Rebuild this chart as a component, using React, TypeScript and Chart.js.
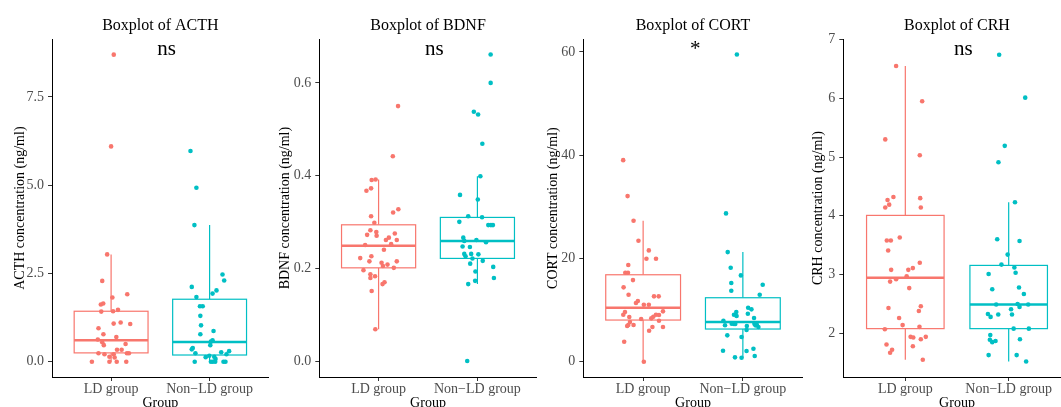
import React, { useEffect, useRef } from "react";
import { Chart, registerables } from "chart.js";

Chart.register(...registerables);

// ---------- categories / labels ----------
const groups = ["LD group", "Non\u2212LD group"];
const panelTitles = ["Boxplot of ACTH", "Boxplot of BDNF", "Boxplot of CORT", "Boxplot of CRH"];
const yAxisTitles = [
  "ACTH concentration (ng/ml)",
  "BDNF concentration (ng/ml)",
  "CORT concentration (ng/ml)",
  "CRH concentration (ng/ml)",
];
const xAxisTitle = "Group";
const sigLabels = ["ns", "ns", "*", "ns"];
const sigLabelX = [1.5, 1.5, 1.5, 1.5];
const sigLabelY = [8.68, 0.66, 59.36, 6.73];

// ---------- y axis ranges & ticks ----------
const yMins = [-0.433, -0.0329, -2.96, 1.257];
const yMaxs = [9.137, 0.694, 62.46, 7.005];
const acthTicks = [0, 2.5, 5, 7.5];
const bdnfTicks = [0, 0.2, 0.4, 0.6];
const cortTicks = [0, 20, 40, 60];
const crhTicks = [2, 3, 4, 5, 6, 7];
const tickDecimals = [1, 1, 0, 0];

// ---------- box statistics: [lower whisker, Q1, median, Q3, upper whisker] ----------
const acthBoxLD = [0, 0.25, 0.61, 1.43, 3.04];
const acthBoxNon = [0, 0.19, 0.56, 1.77, 3.87];
const bdncBoxLD = [0.07, 0.202, 0.2495, 0.2946, 0.392];
const bdnfBoxNon = [0.167, 0.2223, 0.2596, 0.3105, 0.399];
const cortBoxLD = [0, 8.07, 10.45, 16.84, 27.29];
const cortBoxNon = [0.77, 6.33, 7.68, 12.39, 21.23];
const crhBoxLD = [1.55, 2.08, 2.946, 4.007, 6.55];
const crhBoxNon = [1.52, 2.08, 2.49, 3.156, 4.23];

// ---------- jittered observations ----------
const acthLD = [8.7, 6.1, 3.04, 2.29, 1.82, 1.91, 1.62, 1.65, 1.42, 1.43, 1.47, 1.08, 1.11, 1.07, 0.95, 0.78, 0.7, 0.63, 0.55, 0.47, 0.5, 0.34, 0.34, 0.24, 0.21, 0.14, 0.21, 0.12, 0.24, 0.24, 0, 0, 0, 0];
const acthLDJitter = [0.027, 0, -0.04, -0.09, 0.013, 0.164, -0.104, -0.08, -0.1, 0.02, 0.07, 0.026, 0.097, 0.194, -0.128, -0.078, 0.053, -0.135, -0.09, -0.074, 0.147, 0.06, 0.107, -0.128, -0.067, -0.017, 0.026, 0.036, 0.161, 0.181, -0.195, -0.017, 0.057, 0.154];
const acthNon = [5.97, 4.93, 3.87, 2.47, 2.3, 2.12, 2.02, 1.93, 1.83, 1.57, 1.57, 1.3, 1.03, 0.87, 0.78, 0.61, 0.57, 0.47, 0.39, 0.35, 0.24, 0.3, 0.27, 0.21, 0.17, 0.13, 0.14, 0.08, 0, 0, 0, 0, 0, 0];
const acthNonJitter = [-0.194, -0.134, -0.154, 0.131, 0.148, -0.181, 0.07, 0.03, -0.134, -0.098, -0.07, -0.094, -0.087, 0.04, -0.094, 0.03, 0.013, 0.007, -0.171, -0.181, -0.144, 0.198, 0.118, 0.171, -0.003, -0.04, 0.047, 0.06, -0.151, 0.013, 0.033, 0.057, 0.141, 0.161];

const bdnfLD = [0.55, 0.442, 0.391, 0.392, 0.368, 0.373, 0.328, 0.321, 0.313, 0.299, 0.283, 0.279, 0.273, 0.271, 0.276, 0.267, 0.262, 0.262, 0.251, 0.253, 0.241, 0.223, 0.227, 0.216, 0.213, 0.206, 0.209, 0.216, 0.202, 0.197, 0.188, 0.18, 0.184, 0.171, 0.167, 0.152, 0.07];
const bdnfLDJitter = [0.197, 0.144, -0.07, -0.03, -0.123, -0.076, 0.2, 0.147, -0.076, -0.043, -0.083, -0.023, -0.116, -0.02, 0.164, 0.104, 0.074, 0.184, -0.136, 0.127, 0.054, -0.186, -0.073, -0.093, 0.03, 0.044, 0.09, 0.184, 0.154, -0.153, -0.083, -0.083, -0.036, 0.06, 0.04, -0.07, -0.033];
const bdnfNon = [0.661, 0.6, 0.538, 0.532, 0.469, 0.0015, 0.399, 0.359, 0.349, 0.313, 0.311, 0.301, 0.294, 0.294, 0.294, 0.267, 0.26, 0.262, 0.257, 0.248, 0.247, 0.232, 0.227, 0.232, 0.231, 0.222, 0.217, 0.211, 0.204, 0.194, 0.18, 0.174, 0.167];
const bdnfNonJitter = [0.134, 0.134, -0.036, 0.007, 0.05, -0.103, 0.03, -0.176, 0.004, -0.093, 0.047, -0.183, 0.11, 0.137, 0.157, -0.143, -0.133, -0.01, 0.087, -0.15, -0.076, -0.133, -0.12, -0.063, 0.01, -0.05, 0.054, -0.073, 0.16, -0.02, 0.167, -0.023, -0.093];

const cortLD = [39.04, 32.07, 27.29, 23.42, 21.56, 19.94, 19.94, 18.72, 17.23, 17.23, 15.81, 14.4, 12.97, 12.66, 12.66, 11.75, 11.36, 11.03, 11.03, 9.75, 9.62, 9.1, 9.1, 9.04, 8.71, 8.65, 8.4, 8.26, 7.94, 7.68, 7.1, 6.91, 7.1, 6.72, 6.72, 6.0, 3.87, 0];
const cortLDJitter = [-0.2, -0.156, -0.096, -0.047, 0.057, 0.033, 0.129, -0.149, -0.179, -0.152, -0.102, -0.196, -0.146, 0.109, 0.156, -0.053, -0.072, 0.007, 0.057, 0.199, -0.182, -0.199, 0.129, 0.159, 0.102, -0.139, 0.082, -0.02, 0.159, -0.132, -0.149, -0.16, -0.096, 0.093, 0.199, 0.06, -0.19, 0.007];
const cortNon = [59.5, 28.72, 21.23, 18.2, 16.72, 15.23, 14.9, 13.74, 12.97, 10.45, 10.14, 9.62, 9.1, 8.85, 9.29, 8.46, 7.94, 7.05, 7.34, 7.29, 7.29, 6.91, 7.36, 7.23, 6.72, 7.04, 6.14, 5.11, 4.78, 2.13, 2.52, 2.07, 0.85, 0.77, 1.1];
const cortNonJitter = [-0.06, -0.169, -0.152, -0.122, -0.02, -0.116, 0.199, -0.116, 0.169, 0.053, 0.086, -0.066, -0.089, -0.063, 0.05, 0.112, -0.195, -0.179, -0.112, -0.089, -0.076, 0.04, 0.116, 0.139, 0.156, 0.126, 0.037, -0.156, -0.013, -0.199, 0.106, 0.037, -0.079, -0.013, 0.119];

const crhLD = [6.55, 5.95, 5.3, 5.03, 4.32, 4.27, 4.19, 4.14, 4.3, 4.14, 3.63, 3.58, 3.58, 3.41, 3.2, 3.08, 3.08, 3.11, 2.97, 2.92, 2.88, 2.77, 2.43, 2.46, 2.38, 2.26, 2.14, 2.07, 2.11, 1.94, 1.93, 1.94, 1.9, 1.81, 1.78, 1.72, 1.67, 1.55];
const crhLDJitter = [-0.089, 0.163, -0.194, 0.14, -0.115, -0.172, -0.156, -0.194, 0.144, 0.15, -0.054, -0.179, -0.14, -0.166, 0.14, -0.137, 0.029, 0.073, 0.013, -0.089, -0.147, 0.038, -0.163, 0.15, 0.131, -0.06, -0.026, -0.198, 0.137, 0.051, 0.077, 0.198, 0.15, -0.182, 0.073, -0.128, -0.147, 0.169];
const crhNon = [6.74, 6.01, 5.19, 4.91, 4.23, 3.6, 3.57, 3.34, 3.17, 3.12, 3.03, 3.01, 2.75, 2.78, 2.67, 2.49, 2.5, 2.45, 2.49, 2.41, 2.33, 2.28, 2.32, 2.32, 2.08, 2.08, 1.97, 1.9, 1.89, 1.85, 1.87, 1.63, 1.63, 1.52];
const crhNonJitter = [-0.092, 0.16, -0.038, -0.099, 0.061, -0.111, 0.105, -0.01, -0.07, 0.055, 0.067, -0.194, -0.159, 0.1, 0.147, -0.121, 0.086, 0.105, 0.189, 0.023, -0.201, -0.175, -0.101, 0.032, 0.048, 0.195, -0.178, 0.109, -0.182, -0.159, -0.127, -0.194, 0.077, 0.169];

// ---------- assembled tables ----------
const panelData = [
  { ticks: acthTicks, boxes: [acthBoxLD, acthBoxNon], values: [acthLD, acthNon], jitter: [acthLDJitter, acthNonJitter] },
  { ticks: bdnfTicks, boxes: [bdncBoxLD, bdnfBoxNon], values: [bdnfLD, bdnfNon], jitter: [bdnfLDJitter, bdnfNonJitter] },
  { ticks: cortTicks, boxes: [cortBoxLD, cortBoxNon], values: [cortLD, cortNon], jitter: [cortLDJitter, cortNonJitter] },
  { ticks: crhTicks, boxes: [crhBoxLD, crhBoxNon], values: [crhLD, crhNon], jitter: [crhLDJitter, crhNonJitter] },
];

// ---------- layout & style (not data) ----------
const FONT = "'Liberation Serif', 'Times New Roman', Times, serif";
const COLORS = ["#F8766D", "#00BFC4"];
const CANVAS_H = 420;
const PLOT_BOTTOM = 377;
const panelLayout = [
  { left: 0, yWidth: 52, plotWidth: 218.5 },
  { left: 265, yWidth: 54.3, plotWidth: 220 },
  { left: 533, yWidth: 50.3, plotWidth: 221.5 },
  { left: 798, yWidth: 45.3, plotWidth: 230 },
];
const BOX_WIDTH = 0.75;

const boxPlugin = {
  id: "ggBoxes",
  beforeDatasetsDraw(chart: any, _args: any, opts: any) {
    const { ctx, scales } = chart;
    const xs = scales.x;
    const ys = scales.y;
    (opts.boxes || []).forEach((b: number[], i: number) => {
      const color = COLORS[i];
      const cx = xs.getPixelForValue(i + 1);
      const x0 = xs.getPixelForValue(i + 1 - BOX_WIDTH / 2);
      const x1 = xs.getPixelForValue(i + 1 + BOX_WIDTH / 2);
      const [lo, q1, med, q3, hi] = b.map((v: number) => ys.getPixelForValue(v));
      ctx.save();
      ctx.strokeStyle = color;
      ctx.lineWidth = 1.2;
      ctx.beginPath();
      ctx.moveTo(cx, q3);
      ctx.lineTo(cx, hi);
      ctx.moveTo(cx, q1);
      ctx.lineTo(cx, lo);
      ctx.stroke();
      ctx.fillStyle = "#ffffff";
      ctx.fillRect(x0, q3, x1 - x0, q1 - q3);
      ctx.strokeRect(x0, q3, x1 - x0, q1 - q3);
      ctx.lineWidth = 2.4;
      ctx.beginPath();
      ctx.moveTo(x0, med);
      ctx.lineTo(x1, med);
      ctx.stroke();
      ctx.restore();
    });
  },
};

const sigPlugin = {
  id: "sigLabel",
  afterDatasetsDraw(chart: any, _args: any, opts: any) {
    const { ctx, scales } = chart;
    ctx.save();
    ctx.fillStyle = "#000000";
    ctx.font = `21px ${FONT}`;
    ctx.textAlign = "left";
    ctx.textBaseline = "alphabetic";
    ctx.fillText(opts.text, scales.x.getPixelForValue(opts.x) - 3, scales.y.getPixelForValue(opts.y));
    ctx.restore();
  },
};

function Panel({ index }: { index: number }) {
  const ref = useRef<HTMLCanvasElement | null>(null);
  const lay = panelLayout[index];
  const width = lay.yWidth + lay.plotWidth;

  useEffect(() => {
    const canvas = ref.current;
    if (!canvas) return;
    const pd = panelData[index];
    const datasets = [0, 1].map((g) => ({
      data: pd.values[g].map((v, k) => ({ x: g + 1 + pd.jitter[g][k], y: v })),
      backgroundColor: COLORS[g],
      borderWidth: 0,
      pointRadius: 2.3,
      pointHoverRadius: 2.3,
    }));
    const chart = new Chart(canvas, {
      type: "scatter",
      data: { datasets },
      plugins: [boxPlugin, sigPlugin],
      options: {
        animation: false,
        responsive: false,
        maintainAspectRatio: false,
        events: [],
        layout: { padding: 0 },
        font: { family: FONT },
        plugins: {
          legend: { display: false },
          tooltip: { enabled: false },
          title: {
            display: true,
            text: panelTitles[index],
            fullSize: false,
            color: "#000000",
            font: { family: FONT, size: 16, weight: "normal" },
            padding: { top: 16, bottom: 4 },
          },
          ggBoxes: { boxes: pd.boxes },
          sigLabel: { text: sigLabels[index], x: sigLabelX[index], y: sigLabelY[index] },
        },
        scales: {
          x: {
            type: "linear",
            min: 0.4,
            max: 2.6,
            afterBuildTicks: (s: any) => {
              s.ticks = groups.map((_g, i) => ({ value: i + 1 }));
            },
            afterFit: (s: any) => {
              s.height = CANVAS_H - PLOT_BOTTOM;
            },
            ticks: {
              callback: (v: any) => groups[Math.round(Number(v)) - 1] ?? "",
              color: "#4D4D4D",
              font: { family: FONT, size: 14 },
              padding: 0,
              maxRotation: 0,
              autoSkip: false,
            },
            grid: { display: true, drawOnChartArea: false, drawTicks: true, tickLength: 4, color: "#333333" },
            border: { display: true, color: "#000000", width: 1 },
            title: {
              display: true,
              text: xAxisTitle,
              color: "#000000",
              font: { family: FONT, size: 14 },
              padding: { top: 0, bottom: 8 },
            },
          },
          y: {
            type: "linear",
            min: yMins[index],
            max: yMaxs[index],
            afterBuildTicks: (s: any) => {
              s.ticks = pd.ticks.map((v) => ({ value: v }));
            },
            afterFit: (s: any) => {
              s.width = lay.yWidth;
            },
            ticks: {
              callback: (v: any) => Number(v).toFixed(tickDecimals[index]),
              color: "#4D4D4D",
              font: { family: FONT, size: 14 },
              padding: 4,
            },
            grid: { display: true, drawOnChartArea: false, drawTicks: true, tickLength: 4, color: "#333333" },
            border: { display: true, color: "#000000", width: 1 },
            title: {
              display: true,
              text: yAxisTitles[index],
              color: "#000000",
              font: { family: FONT, size: 14 },
              padding: { top: 11.6, bottom: 0 },
            },
          },
        },
      } as any,
    });
    return () => chart.destroy();
  }, [index]);

  return (
    <canvas
      ref={ref}
      width={Math.round(width)}
      height={CANVAS_H}
      style={{
        position: "absolute",
        left: lay.left,
        top: 0,
        width: Math.round(width),
        height: CANVAS_H,
      }}
    />
  );
}

export default function App() {
  return (
    <div
      style={{
        position: "absolute",
        left: 0,
        top: 0,
        width: 1061,
        height: 407,
        overflow: "hidden",
        background: "#ffffff",
      }}
    >
      {panelTitles.map((_t, i) => (
        <Panel key={i} index={i} />
      ))}
    </div>
  );
}
